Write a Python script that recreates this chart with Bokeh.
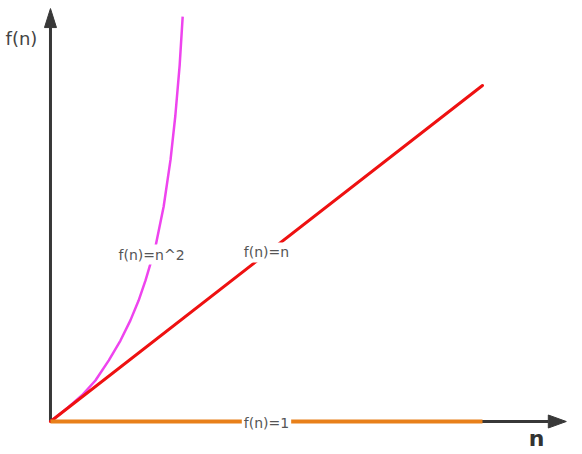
from bokeh.plotting import figure
from bokeh.models import Range1d, Label
from bokeh.embed import file_html
from bokeh.resources import INLINE

# ---- data (arbitrary units) ----
n_const = [0, 10]
f_const = [0, 0]
n_linear = [0, 10]
f_linear = [0, 10]
n_square = [0, 0.40, 0.73, 1.04, 1.35, 1.62, 1.85, 2.04, 2.20, 2.43, 2.62, 2.78, 2.89, 2.99, 3.06]
f_square = [0, 0.41, 0.78, 1.22, 1.82, 2.41, 3.01, 3.60, 4.20, 5.20, 6.40, 7.80, 9.10, 10.60, 12.05]

label_texts = ["f(n)=n^2", "f(n)=n", "f(n)=1"]
label_n = [2.34, 5.0, 5.0]
label_f = [4.97, 5.03, -0.05]

# axis extents
x_min, x_max = -1.157, 12.315
y_min, y_max = -0.982, 12.53
n_axis_tip = 11.94
f_axis_tip = 12.29

W, H = 582, 454
px_n = W / (x_max - x_min)
px_f = H / (y_max - y_min)

AXIS = "#383838"

p = figure(width=W, height=H, output_backend="svg", toolbar_location=None,
           x_range=Range1d(x_min, x_max), y_range=Range1d(y_min, y_max),
           min_border=0, outline_line_color=None)
p.axis.visible = False
p.grid.visible = False
p.background_fill_color = "white"

# y axis with arrow head
yh_len, yh_w = 19 / px_f, 6 / px_n
p.line([0, 0], [0, f_axis_tip - yh_len], line_color=AXIS, line_width=3)
p.patch([0, -yh_w, yh_w], [f_axis_tip, f_axis_tip - yh_len, f_axis_tip - yh_len],
        fill_color=AXIS, line_color=AXIS, line_width=1)

# x axis with arrow head
xh_len, xh_w = 18 / px_n, 6.5 / px_f
p.line([0, n_axis_tip - xh_len], [0, 0], line_color=AXIS, line_width=3)
p.patch([n_axis_tip, n_axis_tip - xh_len, n_axis_tip - xh_len], [0, xh_w, -xh_w],
        fill_color=AXIS, line_color=AXIS, line_width=1)

# curves
p.line(n_square, f_square, line_color="#ee44ee", line_width=2.5, line_join="round")
p.line(n_linear, f_linear, line_color="#ee1111", line_width=3, line_cap="round")
p.line(n_const, f_const, line_color="#e8801a", line_width=4)

for t, x, y in zip(label_texts, label_n, label_f):
    p.add_layout(Label(x=x, y=y, text=t, text_align="center", text_baseline="middle",
                       text_font="DejaVu Sans", text_font_size="14px",
                       text_color="#555555", background_fill_color="white",
                       padding=2))

p.add_layout(Label(x=-1.04, y=11.4, text="f(n)", text_align="left",
                   text_baseline="middle", text_font="DejaVu Sans",
                   text_font_size="18px", text_color="#444444"))
p.add_layout(Label(x=11.25, y=-0.5, text="n", text_align="center",
                   text_baseline="middle", text_font="DejaVu Sans",
                   text_font_size="22px", text_font_style="bold",
                   text_color="#333333"))

open("out.html", "w").write(file_html(p, INLINE))
